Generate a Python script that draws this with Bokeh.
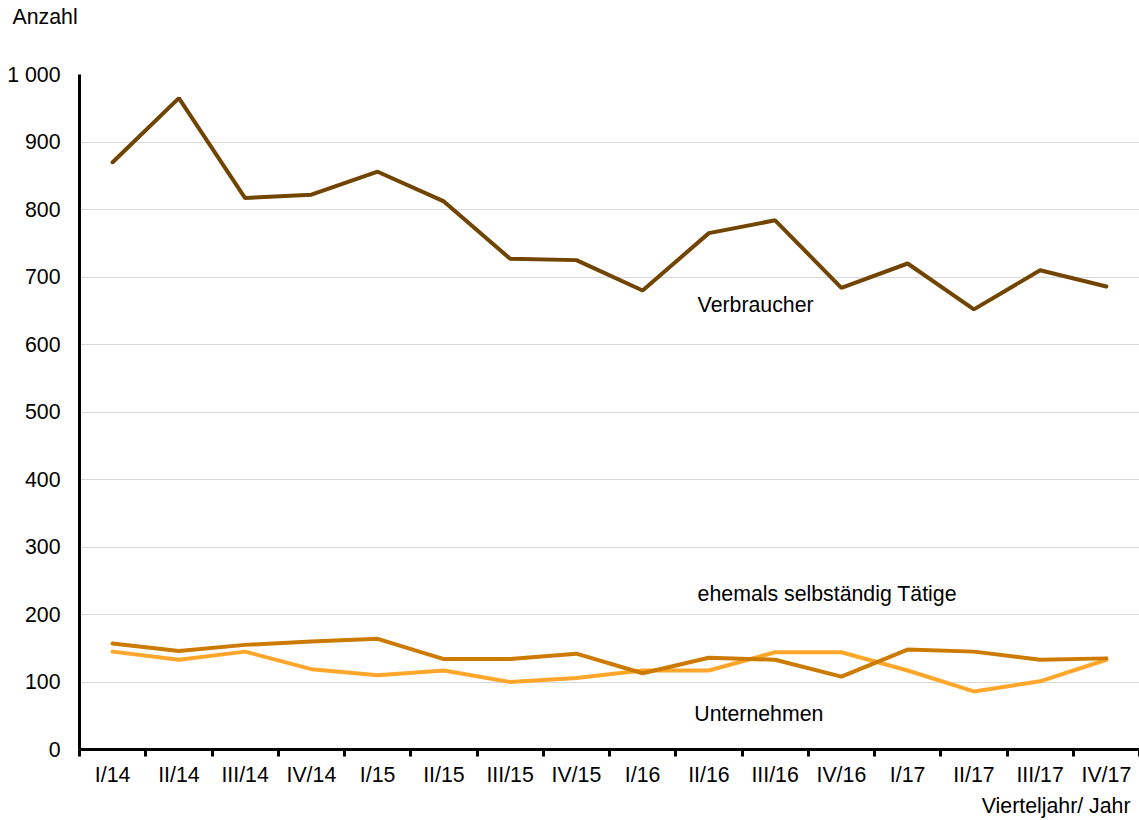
from bokeh.plotting import figure
from bokeh.models import FixedTicker, Range1d, Title
from bokeh.core.properties import value
from bokeh.embed import file_html
from bokeh.resources import INLINE

# ---- data ----
quarters = ["I/14", "II/14", "III/14", "IV/14",
            "I/15", "II/15", "III/15", "IV/15",
            "I/16", "II/16", "III/16", "IV/16",
            "I/17", "II/17", "III/17", "IV/17"]
verbraucher = [870, 965, 817, 822, 856, 812, 727, 725, 680, 765, 784, 684, 720, 652, 710, 686]
ehemals = [157, 146, 155, 160, 164, 134, 134, 142, 113, 136, 133, 108, 148, 145, 133, 135]
unternehmen = [145, 133, 145, 119, 110, 117, 100, 106, 117, 117, 144, 144, 117, 86, 101, 133]
y_ticks = [0, 100, 200, 300, 400, 500, 600, 700, 800, 900, 1000]
y_tick_labels = ["0", "100", "200", "300", "400", "500", "600", "700", "800", "900", "1 000"]
series_names = ["Verbraucher", "ehemals selbständig Tätige", "Unternehmen"]

# ---- styling ----
FONT = "Liberation Sans"
FS = "21.3px"
C_VERB = "#714400"
C_EHEM = "#cc7a00"
C_UNT = "#ffa62b"

n = len(quarters)
xs = [i + 0.5 for i in range(n)]

p = figure(width=1139, height=820, output_backend="svg", toolbar_location=None,
           x_range=Range1d(0, n), y_range=Range1d(0, 1000),
           min_border_left=79, min_border_right=0, min_border_top=74, min_border_bottom=71)
p.title.text = ""
p.outline_line_color = None
p.background_fill_color = "white"
p.border_fill_color = "white"

# grid
p.xgrid.grid_line_color = None
p.ygrid.grid_line_color = "#d9d9d9"
p.ygrid.grid_line_width = 1
p.ygrid.ticker = FixedTicker(ticks=y_ticks)

# y axis
ya = p.yaxis[0]
ya.ticker = FixedTicker(ticks=y_ticks)
ya.major_label_overrides = {t: l for t, l in zip(y_ticks, y_tick_labels)}
ya.axis_line_color = "black"
ya.axis_line_width = 3
ya.major_tick_out = 0
ya.major_tick_in = 0
ya.minor_tick_out = 0
ya.minor_tick_in = 0
ya.major_label_standoff = 19
ya.major_label_text_font = FONT
ya.major_label_text_font_size = FS
ya.major_label_text_color = "black"

# x axis: labels at category centres, tick marks at boundaries
xa = p.xaxis[0]
xa.ticker = FixedTicker(ticks=xs, minor_ticks=list(range(n + 1)))
xa.major_label_overrides = {x: q for x, q in zip(xs, quarters)}
xa.axis_line_color = "black"
xa.axis_line_width = 3
xa.major_tick_out = 0
xa.major_tick_in = 0
xa.minor_tick_out = 7
xa.minor_tick_in = 0
xa.minor_tick_line_color = "black"
xa.minor_tick_line_width = 3
xa.major_label_standoff = 6
xa.major_label_text_font = FONT
xa.major_label_text_font_size = FS
xa.major_label_text_color = "black"

# lines
p.line(xs, verbraucher, line_color=C_VERB, line_width=4, line_cap="round")
p.line(xs, unternehmen, line_color=C_UNT, line_width=4, line_cap="round")
p.line(xs, ehemals, line_color=C_EHEM, line_width=4, line_cap="round")

# inline series labels
p.text(x=[9.33, 9.33, 9.28], y=[659, 231, 52], text=series_names,
       text_font=value(FONT), text_font_size=FS, text_color="black",
       text_align="left", text_baseline="middle")

# axis titles (a tiny spacer title keeps "Anzahl" high above the frame)
p.add_layout(Title(text=" ", text_font_size="1px", standoff=43), "above")
p.add_layout(Title(text="Anzahl", align="left", offset=-67, standoff=0,
                   text_font=FONT, text_font_size=FS, text_font_style="normal",
                   text_color="black"), "above")
p.add_layout(Title(text="Vierteljahr/ Jahr", align="right", offset=9, standoff=5,
                   text_font=FONT, text_font_size=FS, text_font_style="normal",
                   text_color="black"), "below")

open("out.html", "w").write(file_html(p, INLINE))
